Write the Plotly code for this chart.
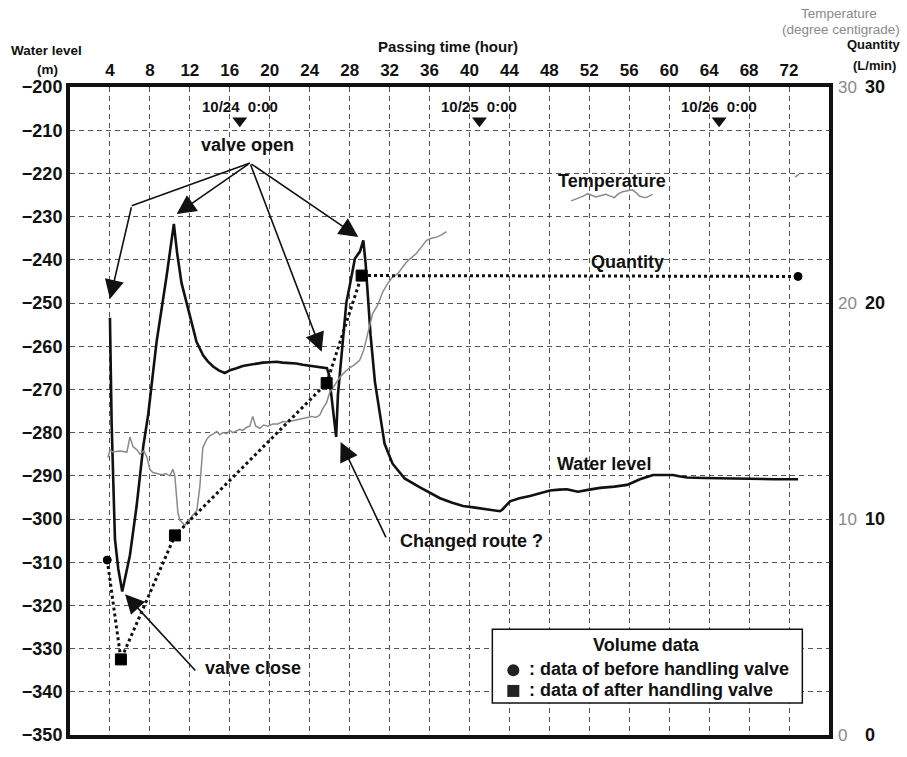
import plotly.graph_objects as go

FONT = "Liberation Sans, Arial, Helvetica, sans-serif"
INK = "#111111"
GRID = "#555555"
GREY = "#8a8a8a"

# ---- water level (m) against passing time (hour) ----
level_time = [4.0, 4.17, 4.5, 4.83, 5.23, 6.0, 6.67, 7.33, 7.83, 8.67,
              9.67, 10.17, 10.4, 10.73, 11.17, 11.67, 12.17, 12.67, 13.33, 13.8,
              14.33, 14.9, 15.5, 16.1, 16.67, 17.3, 18.0, 18.67, 19.3, 20.0,
              20.67, 21.3, 22.0, 22.67, 23.3, 24.0, 24.67, 25.2, 25.73, 25.93,
              26.65, 26.83, 27.33, 27.67, 28.0, 28.53, 29.03, 29.37, 29.6, 29.87,
              30.1, 30.53, 31.04, 31.5, 32.3, 33.5, 35.0, 37.05, 38.2, 39.35,
              40.4, 41.35, 42.2, 43.06, 43.3, 44.06, 45.0, 46.06, 47.0, 48.06,
              49.0, 49.76, 50.3, 50.86, 52.0, 53.07, 54.5, 55.77, 56.4, 57.07,
              58.38, 59.4, 60.38, 61.0, 61.78, 63.5, 65.39, 67.0, 68.39, 70.5,
              72.9]
level_m = [-253.4, -278.0, -304.6, -311.5, -316.8, -308.4, -297.0, -283.3, -275.8, -259.0,
           -243.8, -234.7, -231.7, -238.5, -245.4, -249.9, -254.5, -259.0, -262.1, -263.5,
           -264.7, -265.6, -266.2, -265.5, -265.1, -264.6, -264.3, -264.0, -263.8, -263.7,
           -263.6, -263.8, -263.9, -264.0, -264.3, -264.5, -264.7, -264.9, -265.1, -266.6,
           -281.0, -271.2, -257.5, -249.9, -246.1, -239.7, -238.1, -235.5, -240.8, -249.9,
           -257.5, -268.2, -275.8, -282.6, -287.2, -290.6, -292.6, -295.2, -296.2, -297.0,
           -297.3, -297.7, -297.9, -298.2, -297.8, -295.9, -295.2, -294.7, -294.1, -293.4,
           -293.2, -293.1, -293.4, -293.7, -293.2, -292.8, -292.5, -292.1, -291.5, -290.8,
           -289.8, -289.8, -289.8, -290.1, -290.4, -290.5, -290.6, -290.7, -290.8, -290.8,
           -290.8]

# ---- temperature (degree centigrade); None marks gaps in the record ----
temp_time = [3.8, 4.0, 4.3, 5.0, 5.7, 6.0, 6.3, 6.7, 7.0, 7.4,
             7.7, 8.0, 8.3, 8.7, 9.2, 9.6, 10.0, 10.3, 10.5, 10.8,
             11.0, 11.3, 11.5, 11.8, 12.0, 12.4, 12.7, 13.0, 13.3, 13.7,
             14.0, 14.4, 14.7, 15.0, 15.3, 15.7, 16.0, 16.3, 16.7, 17.0,
             17.3, 17.7, 18.0, 18.3, 18.6, 19.0, 19.4, 19.8, 20.3, 20.8,
             21.3, 21.8, 22.3, 22.8, 23.3, 23.7, 24.2, 24.6, 25.0, 25.3,
             25.7, 26.0, 26.5, 27.0, 27.5, 28.0, 28.5, 29.0, 29.4, 29.8,
             30.3, 30.8, 31.3, 31.8, 32.3, 32.8, 33.2, 33.7, 34.2, 34.7,
             35.2, 35.7, 36.2, 36.7, 37.2, 37.7,
             None,
             50.17, 50.6, 51.0, 51.4, 51.83, 52.2, 52.67, 53.2, 53.67, 54.1,
             54.5, 54.9, 55.33, 55.8, 56.33, 56.7, 57.0, 57.4, 57.67, 58.0,
             58.33,
             None,
             72.6, 73.0]
temp_c = [12.85, 13.2, 13.1, 13.15, 13.1, 13.8, 13.35, 13.2, 13.0, 13.15,
          12.85, 12.3, 12.15, 12.1, 12.05, 12.1, 12.0, 12.3, 12.0, 10.3,
          9.95, 9.8, 9.7, 9.9, 10.0, 10.2, 10.4, 11.5, 13.3, 13.7,
          13.85, 13.95, 14.05, 13.9, 14.0, 13.95, 14.1, 14.0, 14.1, 14.15,
          14.1, 14.25, 14.3, 14.75, 14.3, 14.2, 14.35, 14.3, 14.4, 14.4,
          14.5, 14.5, 14.55, 14.6, 14.65, 14.7, 14.75, 14.7, 14.8, 15.1,
          15.4, 15.85, 16.2, 16.55, 16.8, 17.0, 17.15, 17.35, 17.8, 18.5,
          19.5, 19.9, 20.5, 20.9, 21.2, 21.35, 21.6, 21.9, 22.1, 22.3,
          22.6, 22.9, 23.0, 23.05, 23.15, 23.3,
          None,
          24.73, 24.8, 24.88, 24.95, 25.06, 25.0, 24.91, 24.98, 25.03, 24.95,
          24.88, 25.05, 25.15, 25.2, 25.24, 25.1, 24.95, 24.9, 24.88, 24.95,
          25.03,
          None,
          25.82, 25.97]

# ---- volume data: quantity (L/min), before / after handling the valve ----
qty_time = [3.73, 5.1, 10.51, 25.7, 29.2, 72.9]
qty_lpm = [8.1, 3.5, 9.24, 16.29, 21.27, 21.23]
qty_stage = ["before", "after", "after", "after", "after", "before"]

# ---- calendar marks ----
date_time = [17, 41, 65]
date_text = ["10/24\u00a0\u00a00:00", "10/25\u00a0\u00a00:00", "10/26\u00a0\u00a00:00"]

hour_ticks = list(range(4, 73, 4))
level_ticks = list(range(-350, -199, 10))
right_ticks = [0, 10, 20, 30]

fig = go.Figure()

fig.add_trace(go.Scatter(
    x=temp_time, y=temp_c, yaxis="y2", mode="lines", connectgaps=False,
    line=dict(color=GREY, width=1.5), hoverinfo="skip"))

fig.add_trace(go.Scatter(
    x=level_time, y=level_m, mode="lines",
    line=dict(color=INK, width=2.6), hoverinfo="skip"))

# dotted link between the volume readings, then the readings themselves
fig.add_trace(go.Scatter(
    x=qty_time, y=qty_lpm, yaxis="y3", mode="lines",
    line=dict(color=INK, width=3, dash="dot"), hoverinfo="skip"))
fig.add_trace(go.Scatter(
    x=qty_time, y=qty_lpm, yaxis="y3", mode="markers",
    marker=dict(
        symbol=["circle" if s == "before" else "square" for s in qty_stage],
        size=[8 if s == "before" else 11 for s in qty_stage],
        color="#000000", opacity=1, line=dict(width=1, color="#000000")),
    hoverinfo="skip"))

date_mark_level = -207.8
fig.add_trace(go.Scatter(
    x=date_time, y=[date_mark_level] * len(date_time), mode="markers",
    marker=dict(symbol="triangle-down", size=13, color=INK), hoverinfo="skip"))

bold = dict(family=FONT, size=18, color=INK)
annotations = []

for t, txt in zip(date_time, date_text):
    annotations.append(dict(x=t, y=-204.4, xref="x", yref="y", text="<b>%s</b>" % txt,
                            showarrow=False, font=dict(family=FONT, size=15, color=INK)))

labels = [
    ("valve open", 17.75, -213.4),
    ("valve close", 18.3, -334.4),
    ("Changed route ?", 40.2, -305.2),
    ("Temperature", 54.3, -221.8),
    ("Quantity", 55.8, -240.5),
    ("Water level", 53.5, -287.2),
    ("Volume data", 57.74, -329.1),
]
for txt, x, y in labels:
    annotations.append(dict(x=x, y=y, xref="x", yref="y", text="<b>%s</b>" % txt,
                            xanchor="center", yanchor="middle",
                            showarrow=False, font=bold))

for txt, y in [(": data of before handling valve", -334.8),
               (": data of after handling valve", -339.6)]:
    annotations.append(dict(x=45.73, y=y, xref="x", yref="y", xanchor="left",
                            yanchor="middle",
                            text="<b>%s</b>" % txt, showarrow=False, font=bold))

# arrows: (tip_x, tip_y, tail_x, tail_y)
arrow_hub = (18.02, -217.6)
arrows = [
    (4.0, -249.1, 6.18, -227.5),
    (10.68, -229.4) + arrow_hub,
    (25.2, -261.3) + arrow_hub,
    (28.87, -234.7) + arrow_hub,
    (5.51, -317.4, 12.69, -335.4),
    (27.1, -282.2, 31.71, -304.6),
]
for tx, ty, sx, sy in arrows:
    annotations.append(dict(x=tx, y=ty, ax=sx, ay=sy, xref="x", yref="y",
                            axref="x", ayref="y", text="", showarrow=True,
                            arrowhead=2, arrowsize=2.4, arrowwidth=1.6,
                            arrowcolor=INK, standoff=0))


def title(text, x, y, size, color, anchor="center"):
    return dict(x=x, y=y, xref="paper", yref="paper", text=text,
                xanchor=anchor, yanchor="middle", showarrow=False,
                font=dict(family=FONT, size=size, color=color))


# axis titles
annotations += [
    title("<b>Passing time (hour)</b>", 0.498, 1.063, 15, INK),
    title("<b>Water level</b>", -0.0316, 1.0558, 13.5, INK),
    title("<b>(m)</b>", -0.0303, 1.027, 13.5, INK),
    title("Temperature", 1.0659, 1.1135, 13.5, GREY, "right"),
    title("(degree centigrade)", 1.0962, 1.0882, 13.5, GREY, "right"),
    title("<b>Quantity</b>", 1.0962, 1.0655, 13, INK, "right"),
    title("<b>(L/min)</b>", 1.0909, 1.033, 13, INK, "right"),
]

shapes = [
    # bent part of the first "valve open" arrow
    dict(type="line", xref="x", yref="y", x0=arrow_hub[0], y0=arrow_hub[1],
         x1=6.18, y1=-227.5, line=dict(color=INK, width=1.6)),
    # "Volume data" key box
    dict(type="rect", xref="x", yref="y", x0=42.29, x1=73.33, y0=-342.6, y1=-325.5,
         line=dict(color=INK, width=1.5), fillcolor="white", layer="above"),
    dict(type="circle", xref="x", yref="y", xsizemode="pixel", ysizemode="pixel",
         xanchor=44.39, yanchor=-335.0, x0=-6, x1=6, y0=-6, y1=6,
         fillcolor="#222222", line=dict(width=0), layer="above"),
    dict(type="rect", xref="x", yref="y", xsizemode="pixel", ysizemode="pixel",
         xanchor=44.39, yanchor=-339.8, x0=-6, x1=6, y0=-6, y1=6,
         fillcolor="#222222", line=dict(width=0), layer="above"),
]

fig.update_layout(
    width=907, height=757,
    margin=dict(l=70, r=78, t=87, b=12),
    paper_bgcolor="white", plot_bgcolor="white",
    showlegend=False,
    font=dict(family=FONT, color=INK),
    xaxis=dict(
        side="top", range=[0, 76], tickvals=hour_ticks, ticks="",
        tickfont=dict(family=FONT, size=17, color=INK, weight="bold"),
        showgrid=True, gridcolor=GRID, gridwidth=1, griddash="5px,4px",
        showline=True, linewidth=4, linecolor=INK, mirror=True, zeroline=False),
    yaxis=dict(
        range=[-350, -200], tickvals=level_ticks, ticks="",
        tickfont=dict(family=FONT, size=18, color=INK, weight="bold"),
        showgrid=True, gridcolor=GRID, gridwidth=1, griddash="5px,4px",
        showline=True, linewidth=4, linecolor=INK, mirror=True, zeroline=False),
    yaxis2=dict(
        overlaying="y", side="right", range=[0, 30], tickvals=right_ticks, ticks="",
        ticklabelstandoff=8,
        tickfont=dict(family=FONT, size=17, color=GREY),
        showgrid=False, zeroline=False, showline=False),
    yaxis3=dict(
        overlaying="y", side="right", anchor="free", position=1, shift=30,
        range=[0, 30], tickvals=right_ticks, ticks="", ticklabelstandoff=5,
        tickfont=dict(family=FONT, size=18, color=INK, weight="bold"),
        showgrid=False, zeroline=False, showline=False),
    annotations=annotations,
    shapes=shapes,
)

fig.write_html("out.html")
